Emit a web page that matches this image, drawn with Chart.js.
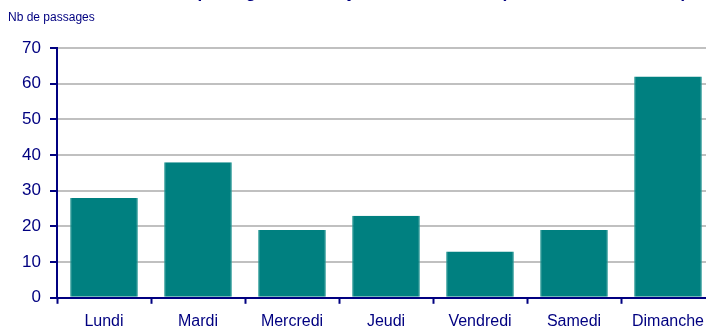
<!DOCTYPE html>
<html>
<head>
<meta charset="utf-8">
<script src="https://cdn.jsdelivr.net/npm/chart.js@4/dist/chart.umd.min.js"></script>
<style>
  html, body { margin: 0; padding: 0; background: #fff; overflow: hidden; }
  #wrap { width: 718px; height: 339px; }
</style>
</head>
<body>
<div id="wrap"><canvas id="graphe" width="718" height="339"></canvas></div>
<script>
const jours = ['Lundi', 'Mardi', 'Mercredi', 'Jeudi', 'Vendredi', 'Samedi', 'Dimanche'];
const passages = [28, 38, 19, 23, 13, 19, 62];
const graduations = [0, 10, 20, 30, 40, 50, 60, 70];

const marine = '#000080';

// titre (coupé en haut) et libellé de l'axe vertical
const textes = {
  id: 'textes',
  afterDraw(chart) {
    const c = chart.ctx;
    c.save();
    c.fillStyle = marine;
    c.font = 'bold 17px "Liberation Sans", Arial, sans-serif';
    c.textAlign = 'left';
    c.textBaseline = 'alphabetic';
    c.fillText('Nombre de passages selon le jour de la semaine (du lundi au dimanche)', 104, -2.5);
    c.font = '12px "Liberation Sans", Arial, sans-serif';
    c.fillText('Nb de passages', 8, 21);
    c.restore();
  }
};

const ctx = document.getElementById('graphe').getContext('2d');
const graphe = new Chart(ctx, {
  type: 'bar',
  data: {
    labels: jours,
    datasets: [{
      label: 'Nb de passages',
      data: passages,
      backgroundColor: '#008080',
      borderColor: '#2a9a96',
      borderWidth: { left: 1, right: 1, top: 0, bottom: 0 },
      barPercentage: 0.72,
      categoryPercentage: 1
    }]
  },
  options: {
    responsive: false,
    animation: false,
    layout: { padding: { top: 48, right: 3, left: 0, bottom: 0 } },
    plugins: {
      legend: { display: false },
      title: { display: false },
      tooltip: { enabled: false }
    },
    scales: {
      x: {
        offset: true,
        grid: {
          offset: true,
          drawOnChartArea: false,
          drawTicks: true,
          tickLength: 6,
          tickColor: marine,
          tickWidth: 2
        },
        border: { color: marine, width: 2 },
        ticks: {
          color: marine,
          font: { family: '"Liberation Sans", Arial, sans-serif', size: 16 },
          padding: 8,
          maxRotation: 0
        }
      },
      y: {
        min: 0,
        max: 70,
        afterFit(scale) { scale.width = 57; },
        afterBuildTicks(scale) { scale.ticks = graduations.map(v => ({ value: v })); },
        grid: {
          color: '#c0c0c0',
          lineWidth: 2,
          tickLength: 7,
          tickColor: marine,
          tickWidth: 2
        },
        border: { color: marine, width: 2 },
        ticks: {
          color: marine,
          font: { family: '"Liberation Sans", Arial, sans-serif', size: 17 },
          padding: 9
        }
      }
    }
  },
  plugins: [textes]
});
</script>
</body>
</html>
